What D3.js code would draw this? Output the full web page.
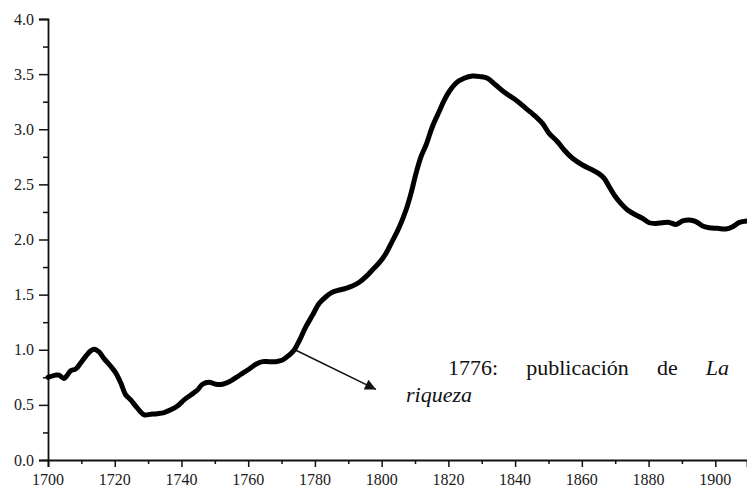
<!DOCTYPE html>
<html>
<head>
<meta charset="utf-8">
<script src="https://cdn.jsdelivr.net/npm/d3@7"></script>
</head>
<body style="margin:0; background:#fff">
<svg id="chart" width="747" height="489" style="display:block" font-family="Liberation Serif"></svg>
<script>
    // values (year, index)
    var years = [1700, 1702.3, 1703.3, 1704.8, 1705.8, 1706.8, 1708.3, 1709.8, 1711.3, 1712.8,
        1713.8, 1715.3, 1716.8, 1718.8, 1720.3, 1721.8, 1723.3, 1724.8, 1726.8, 1728.8,
        1730.8, 1732.8, 1734.8, 1736.8, 1738.8, 1740.8, 1742.8, 1744.8, 1746.3, 1748.3,
        1750.3, 1752.3, 1754.3, 1756.3, 1758.3, 1760.3, 1762.3, 1764.3, 1766.3, 1768.3,
        1770.3, 1772.3, 1773.8, 1775.3, 1777.3, 1779.3, 1781.3, 1783.3, 1785.2, 1787.3,
        1789.3, 1791.2, 1793.3, 1795.3, 1797.2, 1799.3, 1801.3, 1803.2, 1805.2, 1807.3,
        1808.8, 1810.3, 1811.8, 1813.3, 1815.2, 1817.2, 1818.7, 1820.2, 1822.2, 1824.7,
        1827.2, 1829.7, 1831.7, 1834.2, 1837.2, 1840.2, 1843.2, 1846.2, 1848.2, 1850.2,
        1852.7, 1854.7, 1857.2, 1860.2, 1863.2, 1865.0, 1866.7, 1868.2, 1869.7, 1871.7,
        1873.7, 1876.2, 1878.2, 1880.2, 1882.2, 1884.2, 1886.2, 1888.2, 1890.2, 1892.2,
        1894.2, 1896.2, 1898.2, 1900.7, 1903.2, 1905.2, 1907.2, 1909.5];
    var values = [0.75, 0.77, 0.77, 0.74, 0.77, 0.81, 0.825, 0.88, 0.94, 0.99,
        1.005, 0.98, 0.92, 0.85, 0.79, 0.70, 0.59, 0.545, 0.47, 0.41,
        0.415, 0.42, 0.43, 0.455, 0.49, 0.545, 0.59, 0.635, 0.687, 0.705,
        0.687, 0.687, 0.71, 0.747, 0.786, 0.825, 0.868, 0.892, 0.892, 0.892,
        0.907, 0.952, 0.998, 1.08, 1.209, 1.315, 1.421, 1.481, 1.521, 1.542,
        1.557, 1.578, 1.612, 1.663, 1.723, 1.79, 1.874, 1.986, 2.107, 2.268,
        2.419, 2.60, 2.751, 2.857, 3.023, 3.159, 3.26, 3.34, 3.417, 3.462,
        3.483, 3.477, 3.462, 3.401, 3.326, 3.265, 3.19, 3.114, 3.054, 2.963,
        2.887, 2.812, 2.737, 2.676, 2.63, 2.60, 2.555, 2.479, 2.404, 2.328,
        2.268, 2.222, 2.192, 2.152, 2.146, 2.152, 2.155, 2.137, 2.168, 2.177,
        2.162, 2.122, 2.107, 2.101, 2.095, 2.116, 2.155, 2.168];

    var xMajorTicks = [1700, 1720, 1740, 1760, 1780, 1800, 1820, 1840, 1860, 1880, 1900];
    var xMinorTicks = [1710, 1730, 1750, 1770, 1790, 1810, 1830, 1850, 1870, 1890];
    var yMajorTicks = [0, 0.5, 1, 1.5, 2, 2.5, 3, 3.5, 4];
    var yMinorTicks = [0.25, 0.75, 1.25, 1.75, 2.25, 2.75, 3.25, 3.75];

    // annotation: arrow from the curve at 1776 pointing to the note
    var noteFrom = {year: 1774, value: 1.0};
    var noteTo = {year: 1798.3, value: 0.64};
    var noteLine1 = ['1776:', 'publicación', 'de', 'La'];
    var noteLine2 = 'riqueza';

    var FONT = 'Liberation Serif';
    var svg = d3.select('#chart');
    var margin = {left: 48, right: 0, top: 19, bottom: 29};
    var W = 747, H = 489;

    var x = d3.scaleLinear().domain([1700, 1909.5]).range([margin.left, W - margin.right]);
    var y = d3.scaleLinear().domain([0, 4]).range([H - margin.bottom, margin.top]);

    var data = years.map(function (yr, i) { return {year: yr, value: values[i]}; });

    var styleAxis = function (g) {
        g.attr('font-family', null).attr('font-size', null);
        g.selectAll('line').attr('stroke', '#111').attr('stroke-width', 1.5);
        g.selectAll('.domain').attr('stroke', '#111').attr('stroke-width', 1.8);
        g.selectAll('text').remove();
    };

    // axes: d3 draws the lines and ticks, labels are added as plain text below
    svg.append('g')
        .attr('transform', 'translate(' + margin.left + ',0)')
        .call(d3.axisLeft(y).tickValues(yMajorTicks).tickSize(9).tickFormat(''))
        .call(styleAxis);
    svg.append('g')
        .attr('transform', 'translate(' + margin.left + ',0)')
        .call(d3.axisLeft(y).tickValues(yMinorTicks).tickSize(5).tickFormat(''))
        .call(styleAxis)
        .select('.domain').remove();
    svg.append('g')
        .attr('transform', 'translate(0,' + y(0) + ')')
        .call(d3.axisBottom(x).tickValues(xMajorTicks).tickSize(7).tickFormat(''))
        .call(styleAxis);
    svg.append('g')
        .attr('transform', 'translate(0,' + y(0) + ')')
        .call(d3.axisBottom(x).tickValues(xMinorTicks).tickSize(4).tickFormat(''))
        .call(styleAxis)
        .select('.domain').remove();

    var fmtY = d3.format('.1f');
    svg.selectAll('text.ylab')
        .data(yMajorTicks)
        .enter().append('text')
        .attr('class', 'ylab')
        .attr('x', margin.left - 14)
        .attr('y', function (d) { return y(d) + 5.5; })
        .attr('text-anchor', 'end')
        .attr('fill', '#1a1a1a')
        .attr('font-family', FONT)
        .attr('font-size', 16)
        .text(function (d) { return fmtY(d); });

    svg.selectAll('text.xlab')
        .data(xMajorTicks)
        .enter().append('text')
        .attr('class', 'xlab')
        .attr('x', function (d) { return x(d); })
        .attr('y', y(0) + 25)
        .attr('text-anchor', 'middle')
        .attr('fill', '#1a1a1a')
        .attr('font-family', FONT)
        .attr('font-size', 16)
        .text(function (d) { return d; });

    // the series
    var line = d3.line()
        .x(function (d) { return x(d.year); })
        .y(function (d) { return y(d.value); })
        .curve(d3.curveCatmullRom.alpha(0.5));

    svg.append('path')
        .datum(data)
        .attr('d', line)
        .attr('fill', 'none')
        .attr('stroke', '#000')
        .attr('stroke-width', 5)
        .attr('stroke-linejoin', 'round')
        .attr('stroke-linecap', 'round');

    // arrow
    svg.append('defs').append('marker')
        .attr('id', 'arrowhead')
        .attr('viewBox', '0 0 10 10')
        .attr('refX', 10).attr('refY', 5)
        .attr('markerUnits', 'userSpaceOnUse')
        .attr('markerWidth', 15).attr('markerHeight', 11)
        .attr('orient', 'auto')
        .append('path')
        .attr('d', 'M0,0 L10,5 L0,10 Z')
        .attr('fill', '#111');

    svg.append('line')
        .attr('x1', x(noteFrom.year)).attr('y1', y(noteFrom.value))
        .attr('x2', x(noteTo.year)).attr('y2', y(noteTo.value))
        .attr('stroke', '#111')
        .attr('stroke-width', 1.5)
        .attr('marker-end', 'url(#arrowhead)');

    // justified note text, first line indented; word starts spread between the margins
    var lineLeft = 406, indentLeft = 448, lineRight = 730;
    var words = svg.selectAll('text.word')
        .data(noteLine1)
        .enter().append('text')
        .attr('class', 'word')
        .attr('y', 375)
        .attr('fill', '#111')
        .attr('font-family', FONT)
        .attr('font-size', 22)
        .attr('font-style', function (d, i) { return i === noteLine1.length - 1 ? 'italic' : 'normal'; })
        .text(function (d) { return d; });

    var widths = [];
    words.each(function () { widths.push(this.getBBox().width); });
    var gap = (lineRight - indentLeft - d3.sum(widths)) / (noteLine1.length - 1);
    var cursor = indentLeft;
    words.attr('x', function (d, i) {
        var pos = cursor;
        cursor += widths[i] + gap;
        return pos;
    });

    svg.append('text')
        .attr('x', lineLeft)
        .attr('y', 402)
        .attr('fill', '#111')
        .attr('font-family', FONT)
        .attr('font-size', 22)
        .attr('font-style', 'italic')
        .text(noteLine2);
</script>
</body>
</html>
